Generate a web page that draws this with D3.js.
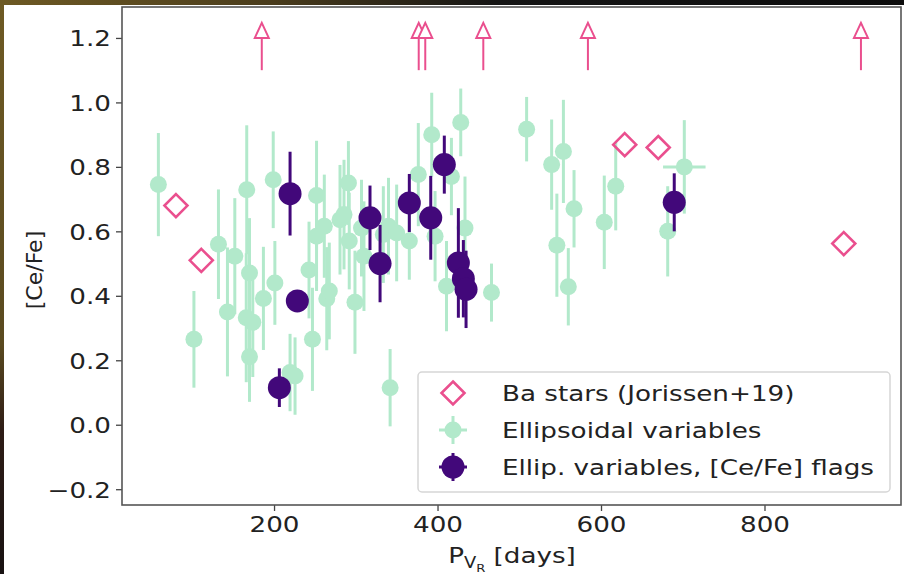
<!DOCTYPE html>
<html>
<head>
<meta charset="utf-8">
<script src="https://cdn.jsdelivr.net/npm/d3@7"></script>
<style>
  html, body { margin: 0; padding: 0; background: #fff; }
  svg { display: block; }
  text { font-family: "DejaVu Sans", sans-serif; fill: #222; }
</style>
</head>
<body>
<svg id="chart" width="904" height="574"></svg>
<script>
// ---- data -------------------------------------------------------------
// Ellipsoidal variables: period (days), [Ce/Fe], error on [Ce/Fe]
const ellP   = [58.5, 102, 132, 143, 152, 166, 166.6, 170, 170, 174, 187, 199, 201, 219.6, 225.7,
                242.8, 247, 252, 252, 261.5, 264.5, 267.6, 280.7, 285.6, 291, 292, 299, 307, 310,
                333.7, 340, 342, 350, 365.5, 376.5, 392.9, 397, 411, 417, 428.4, 433.6, 466,
                509, 539.6, 546, 554, 560, 567, 604, 618, 681.6, 701.9];
const ellCe  = [0.745, 0.265, 0.56, 0.35, 0.523, 0.332, 0.729, 0.471, 0.211, 0.318, 0.392, 0.76, 0.44, 0.162, 0.151,
                0.48, 0.265, 0.711, 0.585, 0.616, 0.391, 0.415, 0.636, 0.652, 0.75, 0.57, 0.38, 0.61, 0.523,
                0.59, 0.616, 0.115, 0.595, 0.57, 0.776, 0.90, 0.585, 0.43, 0.77, 0.938, 0.61, 0.41,
                0.917, 0.807, 0.557, 0.848, 0.428, 0.67, 0.628, 0.74, 0.60, 0.80];
const ellErr = [0.16, 0.15, 0.17, 0.20, 0.18, 0.20, 0.20, 0.17, 0.14, 0.17, 0.16, 0.15, 0.13, 0.12, 0.12,
                0.15, 0.16, 0.17, 0.17, 0.16, 0.16, 0.15, 0.17, 0.17, 0.13, 0.15, 0.16, 0.15, 0.17,
                0.15, 0.15, 0.12, 0.15, 0.12, 0.16, 0.13, 0.14, 0.14, 0.12, 0.105, 0.16, 0.09,
                0.10, 0.14, 0.16, 0.16, 0.12, 0.12, 0.145, 0.137, 0.14, 0.145];
const ellPErr = ellP.map((p, i) => i === ellP.length - 1 ? 26 : 0);

// Ellipsoidal variables with [Ce/Fe] flags
const flagP   = [206.5, 219.6, 228.5, 317.4, 329.7, 365.5, 391.7, 408.3, 425.5, 431.6, 434.9, 689.6];
const flagCe  = [0.115, 0.717, 0.384, 0.642, 0.50, 0.688, 0.642, 0.807, 0.502, 0.453, 0.42, 0.69];
const flagErr = [0.06, 0.13, 0.03, 0.10, 0.12, 0.09, 0.13, 0.09, 0.17, 0.12, 0.12, 0.09];
const flagPErr = [0, 0, 0, 0, 0, 0, 0, 0, 0, 0, 0, 12];

// Ba stars (Jorissen+19)
const baP  = [80, 111, 629, 670, 897];
const baCe = [0.68, 0.51, 0.869, 0.86, 0.562];
// Ba stars beyond the plotted range: lower limits drawn as arrows
const baLimP    = [185, 377, 385, 456, 584, 918];
const baLimFrom = [1.1, 1.1, 1.1, 1.1, 1.1, 1.1];
const baLimTo   = [1.2, 1.2, 1.2, 1.2, 1.2, 1.2];

const xTicks = [200, 400, 600, 800];
const yTicks = [-0.2, 0.0, 0.2, 0.4, 0.6, 0.8, 1.0, 1.2];

const legendLabels = ["Ba stars (Jorissen+19)", "Ellipsoidal variables", "Ellip. variables, [Ce/Fe] flags"];

// ---- style ------------------------------------------------------------
const PINK = "#ea4f8e", GREEN = "#b2e9cb", PURPLE = "#42087a";
const FS = 22, STRETCH = 1.19;

const svg = d3.select("#chart");

// widen glyphs horizontally to the figure's aspect
function stretch(sel) {
  sel.each(function () {
    const w = this.getComputedTextLength();
    this.setAttribute("textLength", w * STRETCH);
    this.setAttribute("lengthAdjust", "spacingAndGlyphs");
  });
}

// dark screen edge around the figure
const defs = svg.append("defs");
const gTop = defs.append("linearGradient").attr("id", "edgeTop");
gTop.append("stop").attr("offset", "0").attr("stop-color", "#6e5a24");
gTop.append("stop").attr("offset", "0.3").attr("stop-color", "#4a3c1c");
gTop.append("stop").attr("offset", "0.55").attr("stop-color", "#151515");
gTop.append("stop").attr("offset", "1").attr("stop-color", "#0c0c0c");
const gLeft = defs.append("linearGradient").attr("id", "edgeLeft")
  .attr("x1", 0).attr("y1", 0).attr("x2", 0).attr("y2", 1);
gLeft.append("stop").attr("offset", "0").attr("stop-color", "#6e5a24");
gLeft.append("stop").attr("offset", "0.6").attr("stop-color", "#5a4a20");
gLeft.append("stop").attr("offset", "0.75").attr("stop-color", "#2e1c16");
gLeft.append("stop").attr("offset", "1").attr("stop-color", "#181212");
svg.append("rect").attr("x", 0).attr("y", 0).attr("width", 904).attr("height", 5).attr("fill", "url(#edgeTop)");
svg.append("rect").attr("x", 0).attr("y", 0).attr("width", 4).attr("height", 574).attr("fill", "url(#edgeLeft)");

// ---- scales -----------------------------------------------------------
const plotL = 122, plotR = 901, plotT = 7, plotB = 505;
const x = d3.scaleLinear().domain([14, 967]).range([plotL, plotR]);
const y = d3.scaleLinear().domain([-0.249, 1.296]).range([plotB, plotT]);

const plot = svg.append("g");
plot.append("clipPath").attr("id", "clip")
  .append("rect").attr("x", plotL).attr("y", plotT).attr("width", plotR - plotL).attr("height", plotB - plotT);
const marks = plot.append("g").attr("clip-path", "url(#clip)");

// ---- ellipsoidal variables ------------------------------------------
const ell = ellP.map((p, i) => ({ p, ce: ellCe[i], e: ellErr[i], pe: ellPErr[i] }));
marks.append("g").selectAll("line").data(ell).join("line")
  .attr("x1", d => x(d.p)).attr("x2", d => x(d.p))
  .attr("y1", d => y(d.ce - d.e)).attr("y2", d => y(d.ce + d.e))
  .attr("stroke", GREEN).attr("stroke-width", 3);
marks.append("g").selectAll("line").data(ell.filter(d => d.pe > 0)).join("line")
  .attr("x1", d => x(d.p - d.pe)).attr("x2", d => x(d.p + d.pe))
  .attr("y1", d => y(d.ce)).attr("y2", d => y(d.ce))
  .attr("stroke", GREEN).attr("stroke-width", 3);
marks.append("g").selectAll("circle").data(ell).join("circle")
  .attr("cx", d => x(d.p)).attr("cy", d => y(d.ce)).attr("r", 8.5)
  .attr("fill", GREEN);

// ---- flagged ellipsoidal variables -----------------------------------
const flg = flagP.map((p, i) => ({ p, ce: flagCe[i], e: flagErr[i], pe: flagPErr[i] }));
marks.append("g").selectAll("line").data(flg).join("line")
  .attr("x1", d => x(d.p)).attr("x2", d => x(d.p))
  .attr("y1", d => y(d.ce - d.e)).attr("y2", d => y(d.ce + d.e))
  .attr("stroke", PURPLE).attr("stroke-width", 3);
marks.append("g").selectAll("line").data(flg.filter(d => d.pe > 0)).join("line")
  .attr("x1", d => x(d.p - d.pe)).attr("x2", d => x(d.p + d.pe))
  .attr("y1", d => y(d.ce)).attr("y2", d => y(d.ce))
  .attr("stroke", PURPLE).attr("stroke-width", 3);
marks.append("g").selectAll("circle").data(flg).join("circle")
  .attr("cx", d => x(d.p)).attr("cy", d => y(d.ce)).attr("r", 11.5)
  .attr("fill", PURPLE);

// ---- Ba stars ---------------------------------------------------------
const diamond = s => `M0,${-s}L${s},0L0,${s}L${-s},0Z`;
marks.append("g").selectAll("path").data(baP.map((p, i) => ({ p, ce: baCe[i] }))).join("path")
  .attr("transform", d => `translate(${x(d.p)},${y(d.ce)})`)
  .attr("d", diamond(11.5))
  .attr("fill", "none").attr("stroke", PINK).attr("stroke-width", 2.6);

// lower limits: line plus open caret
const lims = baLimP.map((p, i) => ({ p, a: baLimFrom[i], b: baLimTo[i] }));
const limG = marks.append("g").selectAll("g").data(lims).join("g");
limG.append("line")
  .attr("x1", d => x(d.p)).attr("x2", d => x(d.p))
  .attr("y1", d => y(d.a)).attr("y2", d => y(d.b))
  .attr("stroke", PINK).attr("stroke-width", 2);
limG.append("path")
  .attr("transform", d => `translate(${x(d.p)},${y(d.b)})`)
  .attr("d", "M-7,0L7,0L0,-15Z")
  .attr("fill", "#fff").attr("stroke", PINK).attr("stroke-width", 2).attr("stroke-linejoin", "miter");

// ---- axes -------------------------------------------------------------
const fmt = d3.format(".1f");
const yAxis = svg.append("g").attr("transform", `translate(${plotL},0)`)
  .call(d3.axisLeft(y).tickValues(yTicks).tickFormat(fmt).tickSize(6).tickPadding(5));
const xAxis = svg.append("g").attr("transform", `translate(0,${plotB})`)
  .call(d3.axisBottom(x).tickValues(xTicks).tickSize(6).tickPadding(5));
[xAxis, yAxis].forEach(a => {
  a.select(".domain").remove();
  a.selectAll(".tick line").attr("stroke", "#444").attr("stroke-width", 1.3);
  a.selectAll(".tick text").attr("font-size", FS).attr("fill", "#222")
    .style("font-family", "'DejaVu Sans', sans-serif");
});
yAxis.selectAll(".tick text").attr("dy", "0.36em");
xAxis.selectAll(".tick text").attr("dy", "0.74em");
stretch(svg.selectAll(".tick text"));

// frame
svg.append("rect").attr("x", plotL).attr("y", plotT).attr("width", plotR - plotL).attr("height", plotB - plotT)
  .attr("fill", "none").attr("stroke", "#555").attr("stroke-width", 1.6);

// axis labels
const xl = svg.append("text").attr("x", 512).attr("y", 563).attr("text-anchor", "middle").attr("font-size", FS);
xl.append("tspan").text("P");
xl.append("tspan").attr("font-size", 15).attr("dy", 5).text("V");
xl.append("tspan").attr("font-size", 11).attr("dy", 4).text("R");
xl.append("tspan").attr("dy", -9).text(" [days]");
stretch(xl);

svg.append("text").attr("transform", "translate(42,270) rotate(-90)")
  .attr("text-anchor", "middle").attr("font-size", FS).text("[Ce/Fe]");

// ---- legend -----------------------------------------------------------
const lg = svg.append("g");
lg.append("rect").attr("x", 418).attr("y", 372).attr("width", 472).attr("height", 120)
  .attr("rx", 4).attr("fill", "#fff").attr("fill-opacity", 0.85)
  .attr("stroke", "#d6d6d6").attr("stroke-width", 1.5);
const rowY = [393, 430, 467], mx = 453;
lg.append("path").attr("transform", `translate(${mx},${rowY[0]})`).attr("d", diamond(11.5))
  .attr("fill", "none").attr("stroke", PINK).attr("stroke-width", 2.6);
[[GREEN, 8.5, 1], [PURPLE, 11.5, 2]].forEach(([c, r, k]) => {
  lg.append("line").attr("x1", mx - 14).attr("x2", mx + 14).attr("y1", rowY[k]).attr("y2", rowY[k])
    .attr("stroke", c).attr("stroke-width", 3);
  lg.append("line").attr("x1", mx).attr("x2", mx).attr("y1", rowY[k] - 14).attr("y2", rowY[k] + 14)
    .attr("stroke", c).attr("stroke-width", 3);
  lg.append("circle").attr("cx", mx).attr("cy", rowY[k]).attr("r", r).attr("fill", c);
});
lg.selectAll("text.lab").data(legendLabels).join("text").attr("class", "lab")
  .attr("x", 502).attr("y", (d, i) => rowY[i]).attr("dy", "0.36em")
  .attr("font-size", FS).text(d => d);
stretch(lg.selectAll("text.lab"));
</script>
</body>
</html>
